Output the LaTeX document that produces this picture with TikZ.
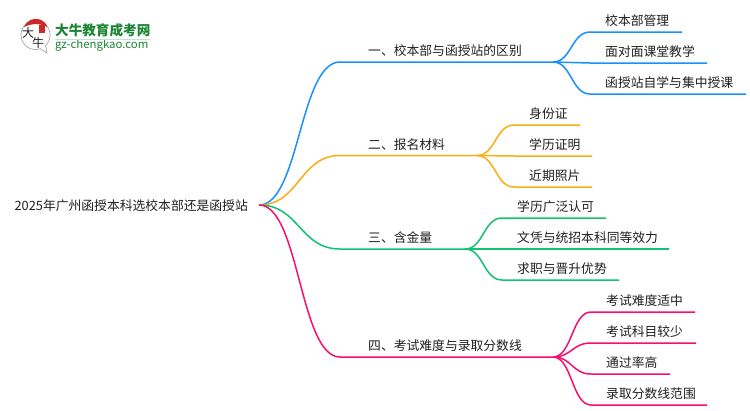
\documentclass[tikz,border=0pt]{standalone}
\usepackage{fontspec}
\setmainfont{Noto Sans CJK SC}
\usepackage{color}
\usetikzlibrary{positioning,calc}
\definecolor{myblue}{RGB}{24,144,255}
\definecolor{myorange}{RGB}{250,173,20}
\definecolor{mygreen}{RGB}{19,194,110}
\definecolor{mypink}{RGB}{245,16,110}
\definecolor{mylogo}{RGB}{28,132,52}
\definecolor{myseal}{RGB}{205,40,40}

\begin{document}
\begin{tikzpicture}[x=1pt,y=-1pt,
		  every node/.style={inner sep=0pt,text=black!88,font=\fontsize{12.8pt}{14pt}\selectfont},
		  lab/.style={anchor=west},
		  branch/.style={line width=1.5pt,to path={let \p1=(\tikztostart),\p2=(\tikztotarget) in
		    .. controls ({0.5*\x1+0.5*\x2},\y1) and ({0.5*\x1+0.5*\x2},\y2) .. (\tikztotarget)}},
		  logotext/.style={anchor=west,text=mylogo,font=\fontsize{13.6pt}{15pt}\selectfont\bfseries}
		]
			\useasboundingbox (0,0) rectangle (750,410);

			% the logo
			\draw [black!35,line width=0.7pt] (35.5,35) circle (14.5);
			\draw [black!35,line width=0.7pt,fill=white] (40,48.5) -- (47,53) -- (45.5,45);
			\fill [myseal] (24,27) arc[start angle=200,end angle=340,radius=12.5] to[bend right=25] cycle;
			\fill [myseal] (39,25) rectangle (45,33);
			\node (big) at (28,33) {\fontsize{12pt}{14pt}\selectfont 大};
			\node (ox) at (38,43) {\fontsize{12pt}{14pt}\selectfont 牛};
			\node [logotext] (site) at (55,30) {大牛教育成考网};
			\node [logotext,font=\fontsize{11.4pt}{13pt}\selectfont] (url) at (55,45) {gz-chengkao.com};
			\fill [mylogo!25] (55,38.5) rectangle (150,39.5);

			% the root
			\node [anchor=east] (root) at (248,205.5) {2025年广州函授本科选校本部还是函授站};
			\coordinate (r) at (259,205);

			% the main branches
			\coordinate (a1) at (340,62);
			\coordinate (e1) at (553,62);
			\coordinate (a2) at (340,155.5);
			\coordinate (e2) at (477,155.5);
			\coordinate (a3) at (340,249);
			\coordinate (e3) at (465,249);
			\coordinate (a4) at (340,357);
			\coordinate (e4) at (553,357);

			\node [lab] (t1) at (368,51) {一、校本部与函授站的区别};
			\node [lab] (t2) at (368,144.5) {二、报名材料};
			\node [lab] (t3) at (368,238) {三、含金量};
			\node [lab] (t4) at (368,346) {四、考试难度与录取分数线};

			\draw [branch,myblue] (r) to (a1) -- (e1);
			\draw [branch,myorange] (r) to (a2) -- (e2);
			\draw [branch,mygreen] (r) to (a3) -- (e3);
			\draw [branch,mypink] (r) to (a4) -- (e4);

			% the leaves of branch 1
			\foreach \i/\y/\xe/\txt in {1/32/682/校本部管理,2/63/707/面对面课堂教学,3/94/746/函授站自学与集中授课} {
			  \node [lab] (l1\i) at (605,\y-11.5) {\txt};
			  \coordinate (c1\i) at (590,\y);
			  \coordinate (d1\i) at (\xe,\y);
			  \draw [branch,myblue] (e1) to (c1\i) -- (d1\i);
			}

			% the leaves of branch 2
			\foreach \i/\y/\xe/\txt in {1/125/580/身份证,2/156/592/学历证明,3/187/592/近期照片} {
			  \node [lab] (l2\i) at (529,\y-11.5) {\txt};
			  \coordinate (c2\i) at (514,\y);
			  \coordinate (d2\i) at (\xe,\y);
			  \draw [branch,myorange] (e2) to (c2\i) -- (d2\i);
			}

			% the leaves of branch 3
			\foreach \i/\y/\xe/\txt in {1/218/606/学历广泛认可,2/249/669/文凭与统招本科同等效力,3/280/619/求职与晋升优势} {
			  \node [lab] (l3\i) at (517,\y-11.5) {\txt};
			  \coordinate (c3\i) at (502,\y);
			  \coordinate (d3\i) at (\xe,\y);
			  \draw [branch,mygreen] (e3) to (c3\i) -- (d3\i);
			}

			% the leaves of branch 4
			\foreach \i/\y/\xe/\txt in {1/312/695/考试难度适中,2/343/696/考试科目较少,3/374/670/通过率高,4/405/707/录取分数线范围} {
			  \node [lab] (l4\i) at (606,\y-11.5) {\txt};
			  \coordinate (c4\i) at (591,\y);
			  \coordinate (d4\i) at (\xe,\y);
			  \draw [branch,mypink] (e4) to (c4\i) -- (d4\i);
			}

		\end{tikzpicture}
\end{document}
